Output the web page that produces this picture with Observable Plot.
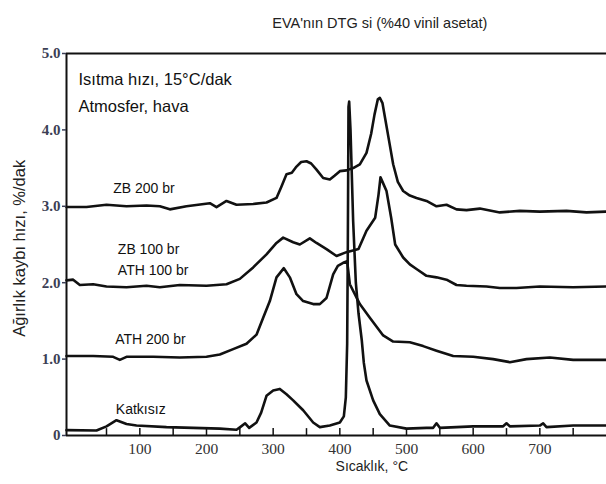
<!DOCTYPE html>
<html>
<head>
<meta charset="utf-8">
<script src="https://cdn.jsdelivr.net/npm/d3@7"></script>
<script src="https://cdn.jsdelivr.net/npm/@observablehq/plot@0.6"></script>
<style>
  html, body { margin: 0; padding: 0; background: #fff; }
  #chart { width: 606px; height: 484px; }
</style>
</head>
<body>
<div id="chart"></div>
<script>
// ---- data (temperature °C, weight-loss rate %/min) ----
const zb200T = [-10, 20, 50, 80, 110, 130, 145, 170, 205, 215, 230, 245, 270, 290, 305, 312, 320, 328, 335, 342, 350, 357, 365, 375, 385, 392, 400, 410, 420, 430, 440, 447, 452, 457, 460, 464, 468, 474, 480, 487, 495, 505, 515, 530, 545, 560, 575, 590, 610, 640, 670, 700, 740, 770, 799];
const zb200V = [2.99, 2.99, 3.02, 3.00, 3.01, 3.00, 2.96, 3.00, 3.04, 2.99, 3.07, 3.02, 3.03, 3.05, 3.11, 3.25, 3.42, 3.44, 3.52, 3.58, 3.59, 3.56, 3.48, 3.37, 3.35, 3.40, 3.46, 3.47, 3.50, 3.55, 3.70, 3.95, 4.20, 4.40, 4.42, 4.35, 4.15, 3.85, 3.55, 3.32, 3.20, 3.14, 3.11, 3.07, 3.00, 3.02, 2.96, 2.95, 2.97, 2.92, 2.94, 2.93, 2.94, 2.92, 2.93];

const zb100T = [-10, 0, 10, 30, 50, 80, 110, 130, 160, 200, 230, 250, 270, 290, 305, 315, 330, 340, 355, 365, 380, 395, 410, 428, 440, 453, 458, 461, 465, 470, 477, 483, 495, 505, 515, 530, 545, 560, 575, 590, 620, 640, 665, 700, 750, 799];
const zb100V = [2.03, 2.04, 1.97, 1.98, 1.95, 1.94, 1.96, 1.94, 1.97, 1.96, 1.98, 2.05, 2.20, 2.37, 2.52, 2.59, 2.53, 2.50, 2.58, 2.52, 2.44, 2.35, 2.40, 2.44, 2.68, 2.85, 3.15, 3.38, 3.30, 3.20, 2.85, 2.50, 2.33, 2.24, 2.18, 2.09, 2.07, 2.04, 1.97, 1.96, 1.95, 1.93, 1.93, 1.95, 1.94, 1.95];

const ath200T = [-10, 30, 60, 70, 80, 120, 160, 200, 220, 240, 260, 275, 285, 295, 305, 316, 325, 335, 345, 360, 370, 380, 390, 397, 405, 411, 415, 430, 445, 465, 480, 505, 525, 545, 570, 600, 630, 655, 680, 715, 750, 799];
const ath200V = [1.04, 1.04, 1.03, 0.99, 1.03, 1.03, 1.02, 1.03, 1.06, 1.13, 1.20, 1.32, 1.54, 1.76, 2.07, 2.19, 2.07, 1.85, 1.76, 1.72, 1.72, 1.80, 2.11, 2.22, 2.26, 2.28, 1.98, 1.72, 1.54, 1.31, 1.23, 1.22, 1.17, 1.11, 1.04, 1.03, 1.00, 0.96, 1.00, 1.02, 0.99, 0.99];

const neatT = [-10, 35, 50, 65, 80, 95, 140, 180, 220, 245, 252, 258, 264, 275, 282, 290, 300, 310, 320, 330, 345, 360, 370, 385, 400, 406, 409, 411, 412, 413, 414, 416, 420, 424, 428, 433, 436, 440, 450, 460, 475, 500, 530, 540, 545, 550, 600, 645, 650, 655, 700, 705, 710, 750, 799];
const neatV = [0.07, 0.065, 0.12, 0.20, 0.15, 0.13, 0.11, 0.10, 0.09, 0.075, 0.12, 0.16, 0.10, 0.17, 0.30, 0.52, 0.59, 0.61, 0.54, 0.46, 0.33, 0.17, 0.11, 0.13, 0.17, 0.25, 0.50, 1.20, 2.50, 4.30, 4.37, 4.00, 2.80, 2.00, 1.60, 1.24, 0.95, 0.72, 0.46, 0.28, 0.13, 0.09, 0.10, 0.10, 0.16, 0.10, 0.12, 0.12, 0.16, 0.12, 0.13, 0.16, 0.11, 0.13, 0.13];

const curveNames = ["ZB 200 br", "ZB 100 br\nATH 100 br", "ATH 200 br", "Katkısız"];
const labelT = [60, 67, 63, 64];
const labelV = [3.26, 2.33, 1.29, 0.37];

const xTickLabels = [100, 200, 300, 400, 500, 600, 700];
const xMinorTicks = [50, 100, 150, 200, 250, 300, 350, 400, 450, 500, 550, 600, 650, 700, 750];
const yTickLabels = [0, 1, 2, 3, 4, 5];

const titleText = "EVA'nın DTG si (%40 vinil asetat)";
const xTitle = "Sıcaklık, °C";
const yTitle = "Ağırlık kaybı hızı, %/dak";
const noteLines = ["Isıtma hızı, 15°C/dak", "Atmosfer, hava"];

// ---- build tables ----
const toRows = (T, V) => T.map((t, i) => ({t, v: V[i]}));
const series = [toRows(zb200T, zb200V), toRows(zb100T, zb100V), toRows(ath200T, ath200V), toRows(neatT, neatV)];
const labels = curveNames.map((s, i) => ({s, t: labelT[i], v: labelV[i]}));

const sans = "'Liberation Sans', Arial, sans-serif";
const serif = "'Liberation Serif', 'Times New Roman', serif";

const lineMarks = series.map(rows => Plot.line(rows, {
  x: "t", y: "v", stroke: "#111", strokeWidth: 2.6, strokeLinejoin: "round", strokeLinecap: "round"
}));

const chart = Plot.plot({
  width: 606,
  height: 484,
  marginLeft: 66,
  marginRight: 0,
  marginTop: 53,
  marginBottom: 49,
  style: {background: "#fff", overflow: "visible"},
  x: {domain: [-10, 800], axis: null},
  y: {domain: [0, 5], axis: null},
  marks: [
    ...lineMarks,
    // frame: left, top, bottom
    Plot.ruleX([-10], {stroke: "#111", strokeWidth: 2}),
    Plot.ruleY([0, 5], {stroke: "#111", strokeWidth: 2}),
    // inward x ticks
    Plot.ruleX(xMinorTicks, {y1: 0, y2: 0.09, stroke: "#111", strokeWidth: 1.5}),
    // outward y ticks
    Plot.ruleY(yTickLabels, {x1: -10, x2: -16, stroke: "#3c3f55", strokeWidth: 1.5}),
    // x tick labels
    Plot.text(xTickLabels, {x: d => d, frameAnchor: "bottom", dy: 18, textAnchor: "middle", fontSize: 15.5, fontFamily: serif, fill: "#333"}),
    // y tick labels
    Plot.text(yTickLabels, {y: d => d, frameAnchor: "left", dx: -6, textAnchor: "end", fontSize: 15, fontWeight: "bold", fontFamily: serif, fill: "#3c3f55",
      text: d => d === 0 ? "0" : d.toFixed(1)}),
    // curve labels
    Plot.text(labels, {x: "t", y: "v", text: "s", textAnchor: "start", fontSize: 14, fontFamily: sans, fill: "#111", lineHeight: 1.5}),
    // note in upper-left
    Plot.text([noteLines.join("\n")], {frameAnchor: "top-left", dx: 12, dy: 13, textAnchor: "start", lineAnchor: "top", fontSize: 16.5, fontFamily: sans, fill: "#111", lineHeight: 1.6}),
    // title
    Plot.text([titleText], {x: 460, frameAnchor: "top", dy: -36, fontSize: 14.5, fontFamily: sans, fill: "#222"}),
    // x title
    Plot.text([xTitle], {x: 448, frameAnchor: "bottom", dy: 35, fontSize: 14, fontFamily: sans, fill: "#222"}),
    // y title
    Plot.text([yTitle], {y: 2.45, frameAnchor: "left", dx: -47, rotate: -90, textAnchor: "middle", fontSize: 16.5, fontFamily: sans, fill: "#222"})
  ]
});
document.getElementById("chart").appendChild(chart);
</script>
</body>
</html>
